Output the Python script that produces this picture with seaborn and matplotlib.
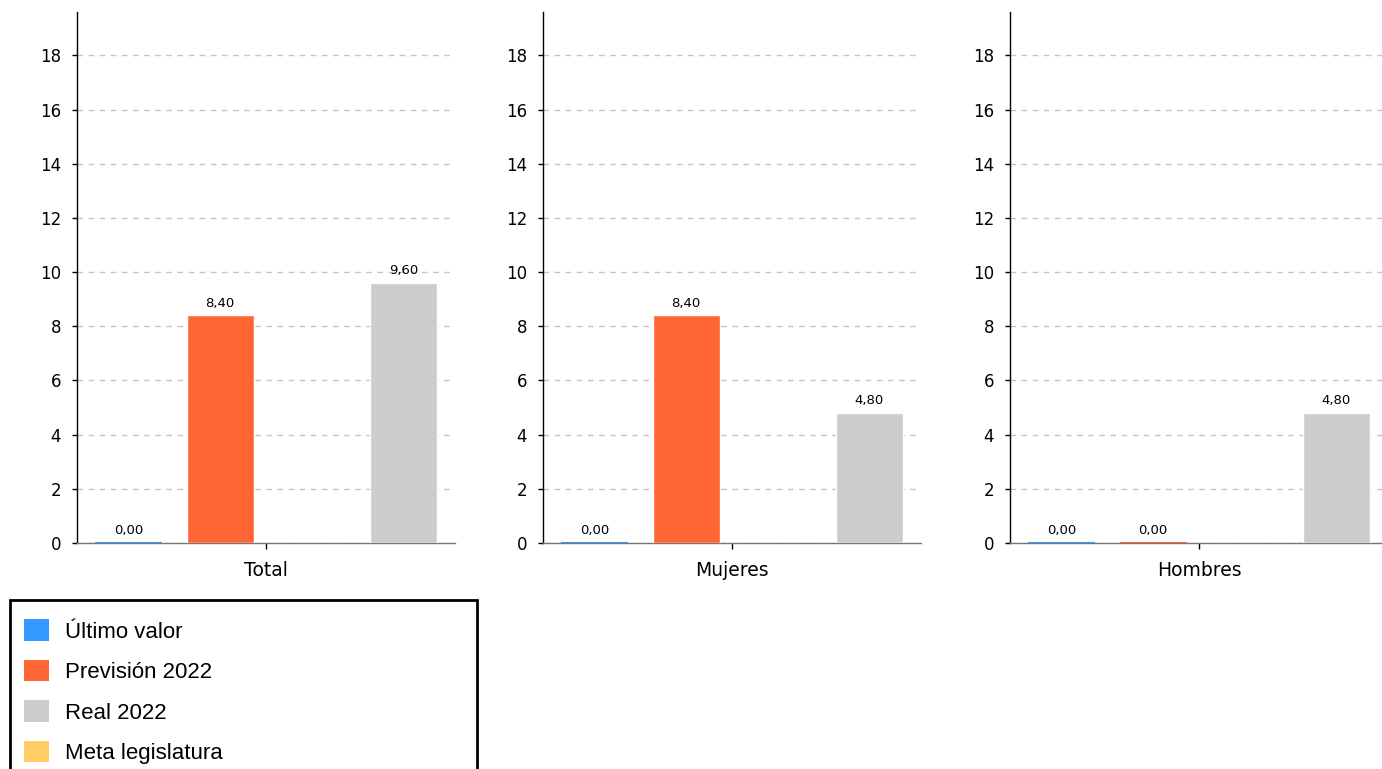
import numpy as np
import pandas as pd
import matplotlib
matplotlib.use('Agg')
import matplotlib.pyplot as plt
from matplotlib.patches import Patch, Rectangle
import seaborn as sn

# datos del grafico
grupos = ['Total', 'Mujeres', 'Hombres']
ultimo_valor = [0.0, 0.0, 0.0]
prevision_2022 = [8.4, 8.4, 0.0]
real_2022 = [9.6, 4.8, 4.8]
meta_legislatura = [np.nan, np.nan, np.nan]

series = ['Último valor', 'Previsión 2022', 'Real 2022', 'Meta legislatura']
colores = {'Último valor': '#3399FF', 'Previsión 2022': '#FF6633',
           'Real 2022': '#CCCCCC', 'Meta legislatura': '#FFCC66'}
# orden de las barras dentro de cada grupo (la meta ocupa el hueco vacio)
orden_barras = ['Último valor', 'Previsión 2022', 'Meta legislatura', 'Real 2022']

filas = []
for i, g in enumerate(grupos):
    filas.append((g, 'Último valor', ultimo_valor[i]))
    filas.append((g, 'Previsión 2022', prevision_2022[i]))
    filas.append((g, 'Real 2022', real_2022[i]))
    filas.append((g, 'Meta legislatura', meta_legislatura[i]))
df = pd.DataFrame(filas, columns=['grupo', 'serie', 'valor'])

sn.set_style('white')
plt.rcParams['font.family'] = ['DejaVu Sans']
plt.rcParams['text.color'] = 'black'
plt.rcParams['xtick.color'] = 'black'
plt.rcParams['ytick.color'] = 'black'
plt.rcParams['axes.labelcolor'] = 'black'

fig = plt.figure(figsize=(13.82, 7.69), dpi=100)
lefts = [77, 543, 1010]
for k, g in enumerate(grupos):
    ax = fig.add_axes([lefts[k] / 1382, 1 - 543 / 769, 378 / 1382, 531 / 769])
    sub = df[df.grupo == g]
    sn.barplot(data=sub, x='grupo', y='valor', hue='serie', hue_order=orden_barras,
               palette=colores, width=0.97, gap=0.27, errorbar=None,
               saturation=1, ax=ax, legend=False, zorder=3)
    ax.set_xlim(-0.5, 0.5)
    ax.set_ylim(0, 19.6)
    ax.set_yticks(np.arange(0, 19, 2))
    ax.yaxis.grid(True, color='#C4C4C4', linestyle=(0, (4, 4)), linewidth=1, zorder=0)
    ax.set_axisbelow(True)
    for s in ['top', 'right']:
        ax.spines[s].set_visible(False)
    ax.spines['left'].set_color('black')
    ax.spines['left'].set_linewidth(1)
    ax.spines['bottom'].set_color('#777777')
    ax.spines['bottom'].set_linewidth(1)
    ax.tick_params(axis='y', length=3.6, width=1, color='black', labelsize=12, left=True, pad=8)
    ax.tick_params(axis='x', length=4, width=1, color='black', labelsize=13.5, bottom=True, pad=9)
    ax.set_xlabel('')
    ax.set_ylabel('')

    for p in ax.patches:
        h = p.get_height()
        if np.isfinite(h) and h == 0:
            p.set_edgecolor(p.get_facecolor())
            p.set_linewidth(1.5)
    for cont in ax.containers:
        vals = [b.get_height() for b in cont]
        labs = ['' if not np.isfinite(v) else f'{v:.2f}'.replace('.', ',') for v in vals]
        ax.bar_label(cont, labels=labs, padding=4, fontsize=9.5, color='black')

# marco de la leyenda (se sale por abajo como en la imagen original)
marco = Rectangle((10 / 1382, -0.05), 467 / 1382, (1 - 600 / 769) + 0.05,
                  transform=fig.transFigure, fill=False, edgecolor='black', linewidth=2)
fig.patches.append(marco)

handles = [Patch(facecolor=colores[s], edgecolor='none') for s in series]
leg = fig.legend(handles, series, loc='upper left',
                 bbox_to_anchor=(11 / 1382, 1 - 606 / 769),
                 frameon=False,
                 prop={'family': 'Liberation Sans', 'size': 16},
                 handlelength=1.1, handleheight=1.1, handletextpad=0.75,
                 labelspacing=0.78, borderpad=0.6, borderaxespad=0)
for t in leg.get_texts():
    t.set_color('black')

fig.savefig('out.png', dpi=100)
